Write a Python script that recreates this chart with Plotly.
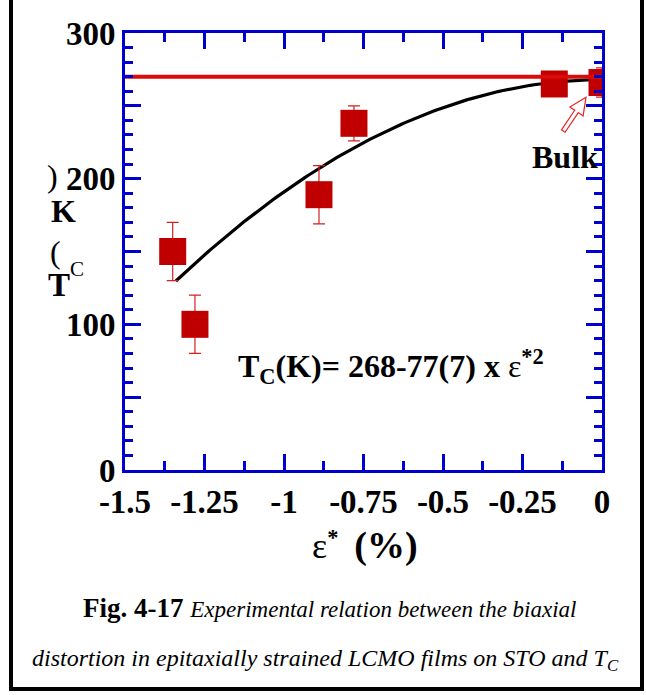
import numpy as np
import plotly.graph_objects as go

# Measured Curie temperatures vs. biaxial distortion
strain = [-1.35, -1.28, -0.89, -0.78, -0.15, 0.0]
tc_k = [150, 100, 189, 238, 265, 266]
tc_err = [20, 20, 20, 12, 5, 10]

# Bulk reference level and fitted quadratic Tc(K) = 268 - 77 * eps^2
bulk_tc = 270
fit_a = 268
fit_b = 77
fit_range = [-1.34, 0.0]

x_ticks = [-1.5, -1.25, -1.0, -0.75, -0.5, -0.25, 0.0]
x_tick_text = ["-1.5", "-1.25", "-1", "-0.75", "-0.5", "-0.25", "0"]
y_ticks = [0, 50, 100, 150, 200, 250, 300]
y_tick_text = ["0", "", "100", "", "200", "", "300"]

W, H = 646, 695
L, R, T, B = 125, 44, 33, 225
PW, PH = W - L - R, H - T - B

SERIF = "Liberation Serif"
BLUE = "#0000cc"
DARK_RED = "#c00000"
RED = "#dd0a0a"


def px(x):
    return (x - L) / PW


def py(y):
    return (T + PH - y) / PH


fit_x = np.linspace(fit_range[0], fit_range[1], 120)
fit_y = fit_a - fit_b * fit_x ** 2

fig = go.Figure()

fig.add_trace(go.Scatter(
    x=fit_x, y=fit_y, mode="lines",
    line=dict(color="black", width=3.2), hoverinfo="skip"))

fig.add_trace(go.Scatter(
    x=strain, y=tc_k, mode="markers",
    marker=dict(symbol="square", size=27, color=DARK_RED, line=dict(width=0)),
    error_y=dict(type="data", array=tc_err, color="#d42020", thickness=1.2, width=6)))

fig.add_trace(go.Scatter(
    x=[x_ticks[0], x_ticks[-1]], y=[bulk_tc, bulk_tc], mode="lines",
    line=dict(color=RED, width=4), hoverinfo="skip"))

axis_common = dict(
    showline=True, linecolor=BLUE, linewidth=3, mirror="allticks",
    ticks="inside", tickcolor=BLUE, tickwidth=3, ticklen=16,
    showgrid=False, zeroline=False,
    tickfont=dict(family=SERIF, size=33, color="black", weight="bold"),
)

fig.update_xaxes(
    range=[-1.5, 0.0], tickvals=x_ticks, ticktext=x_tick_text,
    minor=dict(dtick=0.125, ticks="inside", ticklen=9, tickwidth=3, tickcolor=BLUE),
    **axis_common)
fig.update_yaxes(
    range=[0, 300], tickvals=y_ticks, ticktext=y_tick_text,
    minor=dict(dtick=10, ticks="inside", ticklen=8, tickwidth=3, tickcolor=BLUE),
    **axis_common)

# Hollow arrow pointing at the bulk value
tip = np.array([-16.0, -14.8])
tail = np.array([-38.7, -48.5])
u = (tip - tail) / np.linalg.norm(tip - tail)
n = np.array([-u[1], u[0]])
head_len, head_w, shaft_w = 17.0, 8.0, 2.2
base = tip - head_len * u
pts = [tip, base + head_w * n, base + shaft_w * n, tail + shaft_w * n,
       tail - shaft_w * n, base - shaft_w * n, base - head_w * n]
path = "M " + " L ".join(f"{p[0]:.1f},{p[1]:.1f}" for p in pts) + " Z"

shapes = [
    dict(type="path", xref="x", yref="y", xsizemode="pixel", ysizemode="pixel",
         xanchor=strain[-1], yanchor=tc_k[-1], path=path,
         line=dict(color="#ee2222", width=1.2), fillcolor="white", layer="above"),
    dict(type="rect", xref="paper", yref="paper",
         x0=px(11), x1=px(642), y0=py(689), y1=py(-20),
         line=dict(color="black", width=4), fillcolor="rgba(0,0,0,0)"),
]

ann = []


def text(x, y, s, size=32, bold=True, italic=False, xanchor="center", yanchor="middle"):
    ann.append(dict(
        x=px(x), y=py(y), xref="paper", yref="paper", text=s, showarrow=False,
        xanchor=xanchor, yanchor=yanchor,
        font=dict(family=SERIF, size=size, color="black",
                  weight="bold" if bold else "normal",
                  style="italic" if italic else "normal")))


# Stacked y-axis title characters
text(52, 176, ")", size=32, bold=False)
text(63, 211, "K", size=32)
text(55, 252, "(", size=32, bold=False)
text(59, 285, "T", size=33)
text(77, 269, "C", size=21, bold=False)

# Bulk label
text(565, 157, "Bulk", size=32)

# Fit equation
text(236, 366,
     "T<sub>C</sub>(K)= 268-77(7) x <span style='font-weight:normal'>ε</span><sup>*2</sup>",
     size=32, xanchor="left")

# x-axis title
text(365, 545,
     "<span style='font-weight:normal;font-size:36px'>ε</span>"
     "<sup>*</sup>  <span style='font-size:38px'>(%)</span>",
     size=32)

# Caption
text(329, 608,
     "<b>Fig. 4-17</b> <i><span style='font-size:23px;font-weight:normal'>"
     "Experimental relation between the biaxial</span></i>",
     size=27, bold=False)
text(325, 660,
     "<i>distortion in epitaxially strained LCMO films on STO and T<sub>C</sub></i>",
     size=24, bold=False)

fig.update_layout(
    width=W, height=H, margin=dict(l=L, r=R, t=T, b=B),
    paper_bgcolor="white", plot_bgcolor="white", showlegend=False,
    shapes=shapes, annotations=ann,
)

fig.write_html("out.html")
